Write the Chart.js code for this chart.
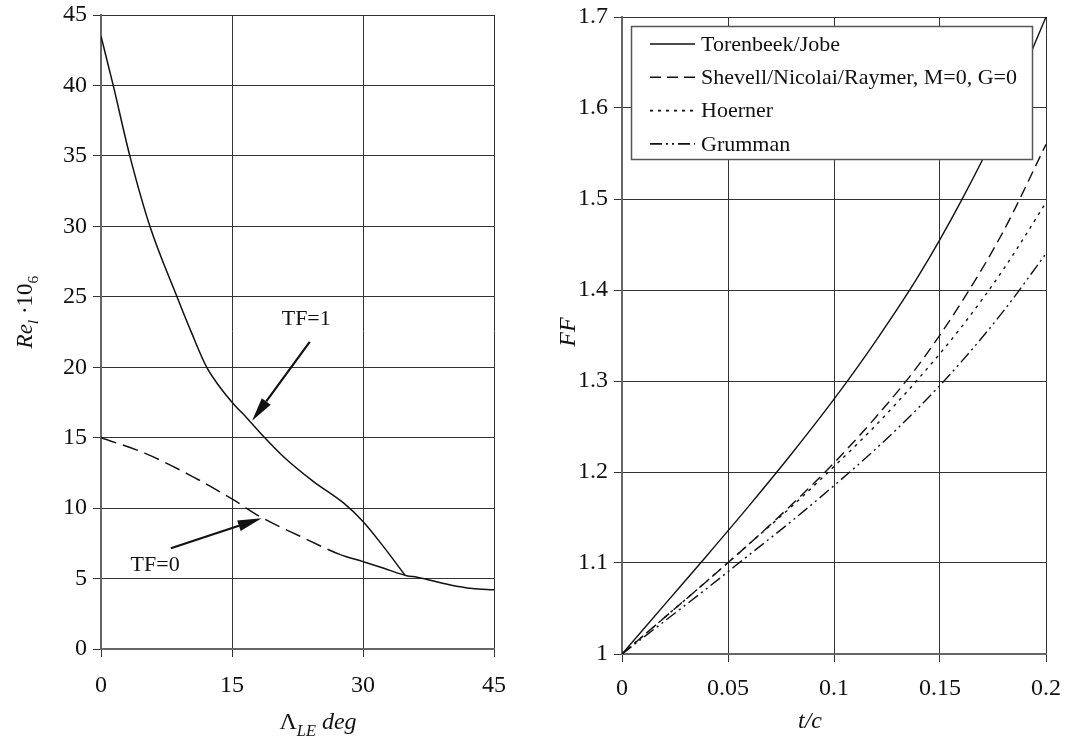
<!DOCTYPE html>
<html><head><meta charset="utf-8">
<script src="https://cdn.jsdelivr.net/npm/chart.js@4.4.0/dist/chart.umd.min.js"></script>
<style>
html,body{margin:0;padding:0;background:#fff;}
#wrap{position:relative;width:1065px;height:737px;overflow:hidden;background:#fff;}
#c1{position:absolute;left:0;top:0;}
#c2{position:absolute;left:545px;top:0;}
</style></head><body>
<div id="wrap"><canvas id="c1" width="545" height="737"></canvas><canvas id="c2" width="520" height="737"></canvas></div>
<script>
// ---------- Left chart data ----------
const tf1Angle = [0, 1.4, 3.3, 5.6, 8.7, 10.4, 12.1, 13.6, 15.1, 16.7, 18.6, 20.9, 24.3, 27.8, 30, 32.3, 34.8];
const tf1Re    = [43.5, 40.0, 35.0, 30.0, 25.0, 22.4, 20.0, 18.6, 17.45, 16.4, 15.1, 13.65, 11.9, 10.35, 9.05, 7.3, 5.25];
const tf0Angle = [0, 5, 10, 15, 18.2, 22.8, 27.4, 30, 32.3, 35, 36.2, 40, 42.5, 45];
const tf0Re    = [15.0, 13.9, 12.4, 10.65, 9.4, 8.0, 6.7, 6.2, 5.75, 5.2, 5.1, 4.55, 4.3, 4.2];
const leftXTicks = [0, 15, 30, 45];
const leftYTicks = [0, 5, 10, 15, 20, 25, 30, 35, 40, 45];
// annotation anchors (data coordinates)
const tf1Label = {text: 'TF=1', x: 23.5, y: 23.4, tailX: 23.9, tailY: 21.8, headX: 17.3, headY: 16.2};
const tf0Label = {text: 'TF=0', x: 6.2, y: 5.96, tailX: 8.0, tailY: 7.15, headX: 18.4, headY: 9.28};

// ---------- Right chart data ----------
const tcValues  = [0, 0.02, 0.04, 0.06, 0.08, 0.10, 0.12, 0.14, 0.16, 0.18, 0.20];
const torenbeek = [1.000, 1.054, 1.108, 1.163, 1.220, 1.280, 1.345, 1.416, 1.498, 1.591, 1.700];
const shevell   = [1.000, 1.040, 1.080, 1.121, 1.164, 1.210, 1.261, 1.318, 1.386, 1.465, 1.560];
const hoerner   = [1.000, 1.040, 1.080, 1.121, 1.162, 1.206, 1.252, 1.303, 1.359, 1.423, 1.496];
const grumman   = [1.000, 1.036, 1.072, 1.109, 1.146, 1.185, 1.226, 1.271, 1.321, 1.377, 1.440];
const seriesNames = ['Torenbeek/Jobe', 'Shevell/Nicolai/Raymer, M=0, G=0', 'Hoerner', 'Grumman'];
const rightXTicks = [0, 0.05, 0.1, 0.15, 0.2];
const rightYTicks = [1, 1.1, 1.2, 1.3, 1.4, 1.5, 1.6, 1.7];

const SERIF = "'Liberation Serif','Times New Roman',serif";
const INK = '#111';
const GRID = '#333';
const AXIS = '#666';

function pts(xs, ys){ return xs.map((x,i)=>({x:x, y:ys[i]})); }
function fmt(v){ return String(Number(Number(v).toFixed(3))); }

function drawRich(ctx, segs, size){
  let total = 0;
  const parts = segs.map(s=>{
    const fs = s.sub ? size*0.68 : size;
    const font = (s.it ? 'italic ' : '') + fs + 'px ' + SERIF;
    ctx.font = font;
    const w = ctx.measureText(s.t).width;
    total += w;
    return {s, font, w};
  });
  let x = -total/2;
  ctx.textAlign = 'left';
  ctx.textBaseline = 'alphabetic';
  parts.forEach(p=>{
    ctx.font = p.font;
    ctx.fillText(p.s.t, x, p.s.sub ? size*0.28 : 0);
    x += p.w;
  });
}

function arrow(ctx, x1, y1, x2, y2){
  const ang = Math.atan2(y2-y1, x2-x1);
  const L = 24, W = 5.5;
  const bx = x2 - L*Math.cos(ang), by = y2 - L*Math.sin(ang);
  ctx.save();
  ctx.strokeStyle = INK; ctx.fillStyle = INK; ctx.lineWidth = 2.2;
  ctx.beginPath(); ctx.moveTo(x1,y1); ctx.lineTo(bx,by); ctx.stroke();
  ctx.beginPath();
  ctx.moveTo(x2,y2);
  ctx.lineTo(bx + W*Math.sin(ang), by - W*Math.cos(ang));
  ctx.lineTo(bx - W*Math.sin(ang), by + W*Math.cos(ang));
  ctx.closePath(); ctx.fill();
  ctx.restore();
}

function makeScale(min, max, tickPad, tickList, size){
  return {
    type: 'linear', min, max,
    ticks: {color: INK, font: {family: SERIF, size: 24}, padding: tickPad, callback: v => fmt(v), maxRotation: 0, autoSkip: false},
    grid: {color: GRID, lineWidth: 1, tickLength: 8, drawTicks: true},
    border: {display: true, color: AXIS, width: 2},
    title: {display: false},
    afterBuildTicks: s => { s.ticks = tickList.map(v => ({value: v})); },
    afterFit: s => {
      if (s.isHorizontal()) s.height = size; else s.width = size;
      s.paddingLeft = 0; s.paddingRight = 0; s.paddingTop = 0; s.paddingBottom = 0;
    }
  };
}

// ---------- Left chart ----------
const leftPlugin = {
  id: 'leftDeco',
  afterDraw(chart){
    const ctx = chart.ctx, xs = chart.scales.x, ys = chart.scales.y;
    ctx.save();
    ctx.fillStyle = INK;
    ctx.save(); ctx.translate(318, 729);
    drawRich(ctx, [{t:'Λ'},{t:'LE', it:true, sub:true},{t:' deg', it:true}], 24);
    ctx.restore();
    ctx.save(); ctx.translate(32, 312); ctx.rotate(-Math.PI/2);
    drawRich(ctx, [{t:'Re', it:true},{t:'l', it:true, sub:true},{t:' ·10'},{t:'6', sub:true}], 23);
    ctx.restore();
    [tf1Label, tf0Label].forEach(a=>{
      ctx.font = '22px ' + SERIF; ctx.textAlign = 'center'; ctx.textBaseline = 'middle'; ctx.fillStyle = INK;
      ctx.fillText(a.text, xs.getPixelForValue(a.x), ys.getPixelForValue(a.y));
      arrow(ctx, xs.getPixelForValue(a.tailX), ys.getPixelForValue(a.tailY), xs.getPixelForValue(a.headX), ys.getPixelForValue(a.headY));
    });
    ctx.restore();
  }
};

new Chart(document.getElementById('c1'), {
  type: 'line',
  data: {
    datasets: [
      {label: 'TF=1', data: pts(tf1Angle, tf1Re), borderColor: INK, borderWidth: 1.5, pointRadius: 0, cubicInterpolationMode: 'monotone', fill: false},
      {label: 'TF=0', data: pts(tf0Angle, tf0Re), borderColor: INK, borderWidth: 1.5, pointRadius: 0, cubicInterpolationMode: 'monotone', fill: false,
        segment: {borderDash: c => (c.p0.parsed.x < 27 ? [16, 7] : [])}}
    ]
  },
  options: {
    responsive: false, animation: false,
    layout: {padding: {left: 0, right: 51, top: 15, bottom: 0}},
    plugins: {legend: {display: false}, tooltip: {enabled: false}},
    scales: {
      x: makeScale(0, 45, 14, leftXTicks, 88),
      y: makeScale(0, 45, 6, leftYTicks, 101)
    }
  },
  plugins: [leftPlugin]
});

// ---------- Right chart ----------
const dashes = [[], [11, 6], [3, 5], [12, 4, 2, 4, 2, 4]];
const rightPlugin = {
  id: 'rightDeco',
  afterDraw(chart){
    const ctx = chart.ctx, ca = chart.chartArea;
    ctx.save();
    ctx.fillStyle = INK;
    ctx.save(); ctx.translate(810 - 545, 728);
    drawRich(ctx, [{t:'t/c', it:true}], 24);
    ctx.restore();
    ctx.save(); ctx.translate(575 - 545, 332); ctx.rotate(-Math.PI/2);
    drawRich(ctx, [{t:'FF', it:true}], 24);
    ctx.restore();
    const bx = ca.left + 9, by = ca.top + 9, bw = 401, bh = 133;
    ctx.fillStyle = '#fff'; ctx.fillRect(bx, by, bw, bh);
    ctx.strokeStyle = '#555'; ctx.lineWidth = 1.5; ctx.strokeRect(bx + 0.5, by + 0.5, bw, bh);
    chart.data.datasets.forEach((d, i) => {
      const cy = by + 18 + i * 33.3;
      ctx.save();
      ctx.strokeStyle = INK; ctx.lineWidth = 1.6; ctx.setLineDash(d.borderDash || []);
      ctx.beginPath(); ctx.moveTo(bx + 19, cy); ctx.lineTo(bx + 64, cy); ctx.stroke();
      ctx.restore();
      ctx.fillStyle = INK; ctx.font = '22px ' + SERIF; ctx.textAlign = 'left'; ctx.textBaseline = 'middle';
      ctx.fillText(d.label, bx + 70, cy + 1);
    });
    ctx.restore();
  }
};

const series = [torenbeek, shevell, hoerner, grumman];
new Chart(document.getElementById('c2'), {
  type: 'line',
  data: {
    datasets: series.map((s, i) => ({
      label: seriesNames[i], data: pts(tcValues, s), borderColor: INK, borderWidth: 1.4,
      borderDash: dashes[i], pointRadius: 0, cubicInterpolationMode: 'monotone', fill: false
    }))
  },
  options: {
    responsive: false, animation: false,
    layout: {padding: {left: 0, right: 19, top: 17, bottom: 0}},
    plugins: {legend: {display: false}, tooltip: {enabled: false}},
    scales: {
      x: makeScale(0, 0.2, 12, rightXTicks, 83),
      y: makeScale(1, 1.7, 6, rightYTicks, 77)
    }
  },
  plugins: [rightPlugin]
});
</script>
</body></html>
